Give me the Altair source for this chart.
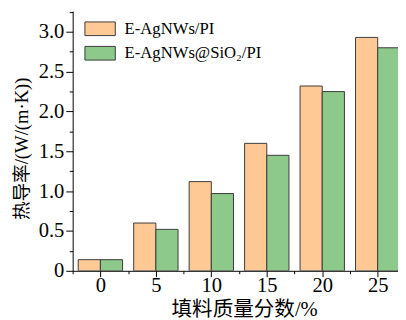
import altair as alt
import pandas as pd

# ---- data ----
loadings = [0, 5, 10, 15, 20, 25]                      # filler mass fraction, %
agnws_pi = [0.14, 0.60, 1.12, 1.60, 2.32, 2.93]        # E-AgNWs/PI
agnws_sio2_pi = [0.14, 0.52, 0.97, 1.45, 2.25, 2.80]   # E-AgNWs@SiO2/PI
series_names = ["E-AgNWs/PI", "E-AgNWs@SiO₂/PI"]
series_colors = ["#FFC996", "#8CC98A"]
y_tick_values = [0, 0.25, 0.5, 0.75, 1.0, 1.25, 1.5, 1.75, 2.0, 2.25, 2.5, 2.75, 3.0, 3.25]
x_tick_values = [-2.5, 0, 2.5, 5, 7.5, 10, 12.5, 15, 17.5, 20, 22.5, 25]

rows = []
for i, ld in enumerate(loadings):
    rows.append({"loading": ld, "series": series_names[0], "value": agnws_pi[i], "side": 0})
    rows.append({"loading": ld, "series": series_names[1], "value": agnws_sio2_pi[i], "side": 1})
df = pd.DataFrame(rows)

serif = "Liberation Serif, Times New Roman, serif"
serif_cjk = "Liberation Serif, Times New Roman, Noto Sans CJK SC"

chart = (
    alt.Chart(df)
    .transform_calculate(
        xa="datum.loading + (datum.side == 0 ? -2 : 0)",
        xb="datum.loading + (datum.side == 0 ? 0 : 2)",
    )
    .mark_bar(stroke="#3a3a3a", strokeWidth=1, clip=True, opacity=1)
    .encode(
        x=alt.X(
            "xa:Q",
            scale=alt.Scale(domain=[-2.5, 26.83], nice=False, zero=False),
            axis=alt.Axis(
                values=x_tick_values,
                labelExpr="datum.value % 5 == 0 ? format(datum.value, 'd') : ''",
                tickSize={"condition": {"test": "datum.value % 5 != 0", "value": 3}, "value": 6},
                labelPadding=-2,
                labelFont=serif,
                labelFontSize=21,
                labelColor="black",
                grid=False,
                domainColor="black",
                tickColor="black",
                title="填料质量分数/%",
                titleFont=serif_cjk,
                titleFontSize=21,
                titleFontWeight="normal",
                titleColor="black",
                titleX=175,
                titleY=29,
                titleBaseline="top",
                titleAlign="center",
            ),
        ),
        x2="xb:Q",
        y=alt.Y(
            "value:Q",
            scale=alt.Scale(domain=[0, 3.26], nice=False),
            axis=alt.Axis(
                values=y_tick_values,
                labelExpr="datum.value % 0.5 == 0 ? (datum.value == 0 ? '0' : format(datum.value, '.1f')) : ''",
                tickSize={"condition": {"test": "datum.value % 0.5 != 0", "value": 3.5}, "value": 7},
                labelPadding=2,
                labelFont=serif,
                labelFontSize=21,
                labelColor="black",
                grid=False,
                domainColor="black",
                tickColor="black",
                title="热导率/(W/(m·K))",
                titleFont=serif_cjk,
                titleFontSize=19,
                titleFontWeight="normal",
                titleColor="black",
                titleAngle=270,
                titleX=-52,
                titleY=140,
                titleBaseline="middle",
                titleAlign="center",
            ),
        ),
        y2=alt.datum(0),
        color=alt.Color(
            "series:N",
            scale=alt.Scale(domain=series_names, range=series_colors),
            legend=alt.Legend(
                title=None,
                orient="none",
                legendX=12,
                legendY=2,
                symbolType="M-1,-0.45L1,-0.45L1,0.45L-1,0.45Z",
                symbolSize=961,
                symbolStrokeColor="#3a3a3a",
                symbolStrokeWidth=1,
                symbolOpacity=1,
                labelFont=serif,
                labelFontSize=17,
                labelColor="black",
                labelOffset=9,
                rowPadding=-12.5,
                padding=0,
            ),
        ),
    )
    .properties(
        width=332,
        height=265,
        autosize=alt.AutoSizeParams(type="none"),
        padding={"left": 66, "top": 0, "right": 0, "bottom": 47},
    )
    .configure(background="white", font=serif)
    .configure_view(stroke=None)
)

chart.save("out.html", embed_options={"renderer": "svg", "actions": False})
